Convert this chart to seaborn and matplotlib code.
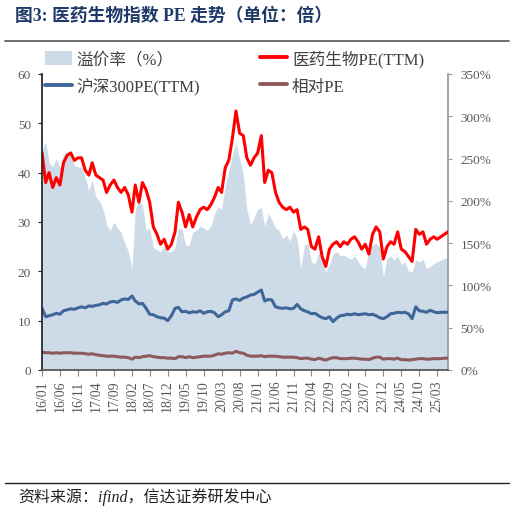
import numpy as np
import pandas as pd
import matplotlib
matplotlib.use("Agg")
import matplotlib.pyplot as plt
from matplotlib.lines import Line2D
from matplotlib.patches import Patch
from matplotlib.ticker import FuncFormatter
import seaborn as sns

# monthly readings, 2016-01 .. 2025-06
med_pe = [44, 38, 40, 37, 39, 37.5, 42, 43.5, 44, 42.5,
          43, 43, 40.5, 39.5, 42, 39.5, 39, 38.5, 36, 37.5,
          38.5, 37, 36, 37, 35.5, 32, 37.5, 34, 38, 36.5,
          34, 29, 27.5, 25.5, 26.5, 24.5, 25.5, 28, 34, 32,
          29, 31.5, 29, 31, 32.5, 33, 32.5, 33.5, 35, 37,
          36, 41, 42.5, 47, 52.5, 48, 47.5, 43, 41.5, 43,
          44, 47.5, 38, 40.5, 40, 36, 34, 33, 32.5, 33,
          32, 32.5, 28.5, 29, 28.5, 25, 24.5, 27, 23, 21,
          24.5, 25.5, 26, 25, 26, 25.5, 26.5, 27, 26, 24.5,
          25.5, 23.5, 27.5, 29, 28, 22.5, 25, 26, 25.5, 28,
          24.5, 24, 23, 22, 28.5, 27.5, 28, 25.5, 26.5, 27,
          26.5, 27, 27.5, 28]
hs300_pe = [12.5, 10.8, 11, 11.2, 11.5, 11.3, 12, 12.2, 12.4, 12.3,
            12.6, 12.8, 12.6, 13, 12.9, 13.1, 13.2, 13.5, 13.4, 13.8,
            13.9, 13.7, 14.2, 14.4, 14.3, 15, 14, 13.4, 13.5, 12.5,
            11.3, 11.2, 10.8, 10.6, 10.5, 10, 11, 12.5, 12.7, 11.8,
            11.9, 11.6, 11.8, 11.7, 12, 11.5, 11.8, 11.9, 11.6, 10.8,
            11.2, 11.8, 12, 14.2, 14.4, 14.1, 14.6, 14.8, 15.2, 15.3,
            15.8, 16.2, 14, 14.3, 14.2, 12.8, 12.6, 12.5, 12.6, 12.4,
            12.5, 13.3, 12.4, 12, 11.8, 11.4, 11.5, 11, 10.6, 10.4,
            10.8, 9.8, 10.5, 11, 11.1, 11.3, 11.2, 11.4, 11.2, 11.3,
            11.4, 11.2, 11.3, 11, 10.6, 10.4, 10.8, 11.4, 11.5, 11.7,
            11.6, 11.7, 11.4, 10.4, 12.8, 12, 11.9, 11.7, 12.1, 11.8,
            11.6, 11.7, 11.7, 11.7]
rel_pe = [3.6, 3.5, 3.5, 3.4, 3.5, 3.4, 3.5, 3.5, 3.5, 3.4,
          3.4, 3.4, 3.3, 3.2, 3.3, 3.1, 3.0, 2.9, 2.8, 2.8,
          2.8, 2.7, 2.6, 2.6, 2.5, 2.2, 2.6, 2.5, 2.7, 2.8,
          2.9, 2.7, 2.6, 2.5, 2.5, 2.4, 2.4, 2.3, 2.7, 2.7,
          2.5, 2.7, 2.5, 2.6, 2.7, 2.8, 2.8, 2.8, 3.0, 3.3,
          3.2, 3.4, 3.5, 3.4, 3.8, 3.5, 3.4, 3.0, 2.8, 2.8,
          2.8, 2.9, 2.7, 2.8, 2.8, 2.8, 2.7, 2.6, 2.6, 2.6,
          2.6, 2.5, 2.3, 2.4, 2.4, 2.2, 2.1, 2.4, 2.2, 2.0,
          2.3, 2.5, 2.5, 2.3, 2.3, 2.3, 2.4, 2.4, 2.3, 2.2,
          2.2, 2.1, 2.4, 2.6, 2.6, 2.2, 2.3, 2.3, 2.2, 2.4,
          2.1, 2.1, 2.0, 2.1, 2.2, 2.3, 2.3, 2.2, 2.2, 2.3,
          2.3, 2.3, 2.4, 2.4]
premium = [260, 270, 245, 240, 250, 238, 255, 258, 252, 242,
           240, 240, 228, 212, 225, 205, 200, 190, 172, 165,
           175, 168, 163, 150, 140, 120, 190, 200, 195, 165,
           168, 145, 142, 140, 147, 140, 140, 145, 168, 167,
           148, 147, 163, 165, 170, 168, 165, 170, 185, 193,
           190, 218, 235, 255, 268, 250, 232, 190, 172, 180,
           190, 192, 170, 185, 178, 168, 165, 155, 160, 152,
           165, 155, 120, 148, 150, 128, 125, 140, 130, 116,
           125, 137, 140, 135, 136, 133, 131, 135, 128, 122,
           120, 142, 148, 150, 145, 110, 132, 135, 130, 135,
           125, 128, 117, 116, 130, 128, 131, 120, 122, 126,
           128, 130, 132, 133]
tick_labels = ["16/01", "16/06", "16/11", "17/04", "17/09", "18/02", "18/07",
               "18/12", "19/05", "19/10", "20/03", "20/08", "21/01", "21/06",
               "21/11", "22/04", "22/09", "23/02", "23/07", "23/12", "24/05",
               "24/10", "25/03"]

dates = pd.date_range("2016-01-01", periods=len(med_pe), freq="MS")
df = pd.DataFrame({"date": dates, "med": med_pe, "hs300": hs300_pe,
                   "rel": rel_pe, "prem": premium})

sns.set_theme(style="white")
serif = ["Liberation Serif", "Noto Sans CJK SC"]
plt.rcParams["font.family"] = serif

c_fill = "#cddbe8"
c_red = "#ff0000"
c_blue = "#3f6698"
c_brown = "#8c5a5a"
c_tick = "#595959"

fig = plt.figure(figsize=(5.14, 5.10), dpi=100)
ax = fig.add_axes([42 / 514, 1 - 371 / 510, 406 / 514, 296 / 510])
ax2 = ax.twinx()

ax2.fill_between(df["date"], 0, df["prem"], color=c_fill, lw=0)
sns.lineplot(data=df, x="date", y="med", ax=ax, color=c_red, lw=2.2)
sns.lineplot(data=df, x="date", y="hs300", ax=ax, color=c_blue, lw=2.2)
sns.lineplot(data=df, x="date", y="rel", ax=ax, color=c_brown, lw=2.2)

ax.set_zorder(ax2.get_zorder() + 1)
ax.patch.set_visible(False)

ax.set_xlim(dates[0], dates[-1])
ax.set_ylim(0, 60)
ax2.set_ylim(0, 350)
ax.set_yticks(range(0, 61, 10))
ax2.set_yticks(range(0, 351, 50))
ax2.yaxis.set_major_formatter(FuncFormatter(lambda v, p: f"{int(v)}%"))

tick_dates = pd.date_range("2016-01-01", periods=len(tick_labels), freq="5MS")
ax.set_xticks(tick_dates)
ax.set_xticklabels(tick_labels, rotation=90)
ax.set_xlabel("")
ax.set_ylabel("")
ax2.set_ylabel("")

for a in (ax, ax2):
    a.grid(False)
    for s in a.spines.values():
        s.set_visible(False)
ax.spines["left"].set_visible(True)
ax.spines["left"].set_color("#222222")
ax.spines["bottom"].set_visible(True)
ax.spines["bottom"].set_color("#555555")
ax2.spines["right"].set_visible(True)
ax2.spines["right"].set_color("#999999")

ax.tick_params(axis="y", direction="out", length=3, width=0.8, color="#222222",
               labelsize=9.5, labelcolor=c_tick, pad=5)
ax.tick_params(axis="x", direction="out", length=4, width=0.8, color="#888888",
               labelsize=10, labelcolor=c_tick, pad=3, bottom=True)
ax2.tick_params(axis="y", direction="out", length=3, width=0.8, color="#999999",
                labelsize=9.5, labelcolor=c_tick, pad=6)

handles = [
    Patch(facecolor=c_fill, edgecolor="none"),
    Line2D([], [], color=c_blue, lw=2.8),
    Line2D([], [], color=c_red, lw=2.8),
    Line2D([], [], color=c_brown, lw=2.8),
]
labels = ["溢价率（%）", "沪深300PE(TTM)", "医药生物PE(TTM)", "相对PE"]
fig.legend(handles, labels, ncol=2, loc="upper left",
           bbox_to_anchor=(45 / 514, 1 - 51 / 510), frameon=False,
           borderpad=0, borderaxespad=0,
           fontsize=12, handlelength=1.6, handleheight=0.9,
           columnspacing=3.6, labelspacing=0.62, handletextpad=0.3,
           labelcolor="#404040")

fig.text(15 / 514, 1 - 16 / 510, "图3: 医药生物指数 PE 走势（单位：倍）",
         fontsize=12.8, fontweight="bold", color="#1f3a68", va="center",
         family=["Liberation Serif", "Noto Sans CJK SC"])
fig.add_artist(Line2D([5 / 514, 509 / 514], [1 - 42 / 510, 1 - 42 / 510],
                      color="#555555", lw=1.2, transform=fig.transFigure))
fig.add_artist(Line2D([5 / 514, 509 / 514], [1 - 484 / 510, 1 - 484 / 510],
                      color="#222222", lw=1.0, transform=fig.transFigure))
fig.text(18 / 514, 1 - 497 / 510, "资料来源：ifind，信达证券研发中心",
         fontsize=11.5, style="italic", color="#222222", va="center",
         family=["Liberation Serif", "Noto Sans CJK SC"])

fig.savefig("out.png", dpi=100)
